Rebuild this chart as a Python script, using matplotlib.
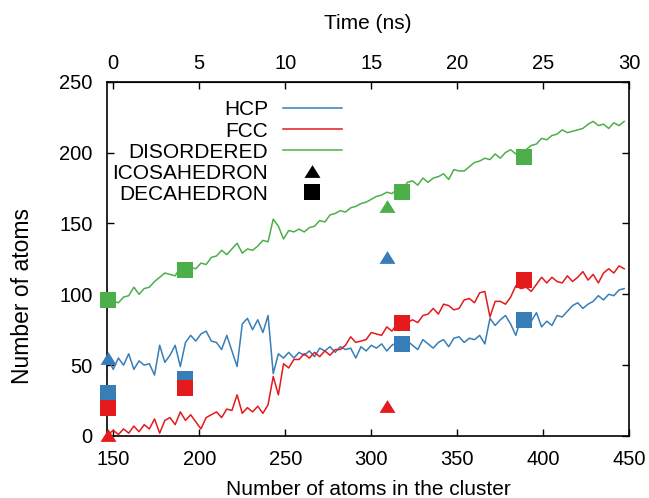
import numpy as np
import matplotlib
matplotlib.use("Agg")
import matplotlib.pyplot as plt
from matplotlib.lines import Line2D

plt.rcParams['font.family'] = ['Liberation Sans', 'DejaVu Sans']
plt.rcParams['font.size'] = 15

# number of atoms in the cluster (sampling of the trajectory)
atoms = np.arange(147, 448, 3)

hcp = [54, 47, 55, 50, 58, 47, 53, 50, 51, 43,
       64, 52, 57, 64, 49, 66, 71, 67, 72, 74,
       67, 66, 61, 71, 60, 49, 79, 83, 75, 82,
       73, 85, 44, 58, 55, 59, 55, 59, 57, 60,
       56, 62, 60, 63, 59, 63, 61, 62, 55, 63,
       60, 64, 62, 65, 60, 64, 66, 63, 67, 64,
       61, 68, 65, 62, 66, 68, 63, 69, 70, 66,
       69, 68, 71, 65, 83, 78, 82, 85, 79, 71,
       83, 82, 81, 87, 77, 81, 78, 85, 84, 88,
       92, 94, 90, 93, 95, 99, 96, 100, 99, 103,
       104]

fcc = [1, 4, 1, 5, 2, 7, 3, 8, 5, 12,
       2, 11, 13, 8, 17, 11, 15, 10, 5, 13,
       15, 17, 13, 19, 18, 29, 16, 20, 17, 21,
       16, 22, 42, 29, 51, 48, 54, 54, 58, 55,
       59, 56, 60, 57, 61, 61, 64, 70, 66, 67,
       68, 73, 72, 71, 77, 74, 79, 76, 80, 82,
       80, 85, 86, 90, 86, 93, 92, 89, 90, 96,
       97, 94, 101, 102, 84, 95, 95, 93, 98, 106,
       104, 105, 102, 107, 112, 108, 112, 109, 108, 113,
       109, 112, 116, 110, 114, 108, 115, 118, 115, 120,
       118]

disordered = [92, 95, 94, 98, 99, 105, 100, 104, 105, 109,
              112, 115, 114, 113, 119, 116, 119, 118, 122, 121,
              126, 127, 131, 128, 132, 136, 129, 132, 131, 134,
              138, 137, 153, 148, 139, 145, 144, 146, 144, 147,
              148, 152, 151, 156, 157, 159, 158, 161, 162, 164,
              165, 167, 169, 170, 172, 171, 174, 173, 179, 180,
              177, 182, 179, 182, 183, 185, 181, 188, 187, 187,
              190, 193, 194, 196, 195, 199, 196, 200, 202, 199,
              200, 202, 205, 206, 210, 209, 212, 213, 216, 214,
              215, 216, 217, 220, 222, 219, 220, 217, 221, 219,
              222]

# icosahedron (triangles) and decahedron (squares) reference structures
ico_atoms = [147, 309]
ico_hcp = [55, 126]
ico_fcc = [1, 21]
ico_dis_atoms = [309]
ico_dis = [162]

deca_atoms = [147, 192, 318, 389]
deca_hcp = [30, 40, 65, 82]
deca_fcc = [20, 34, 80, 110]
deca_dis = [96, 117, 172, 197]

blue = '#377eb8'
red = '#e41a1c'
green = '#4daf4a'

tri = [(-1, -0.8), (1, -0.8), (0, 0.8)]

fig = plt.figure(figsize=(6.49, 4.98), dpi=100)
ax = fig.add_axes([0.1644, 0.1245, 0.8053, 0.7115])

ax.plot(atoms, hcp, color=blue, lw=1.1)
ax.plot(atoms, fcc, color=red, lw=1.1)
ax.plot(atoms, disordered, color=green, lw=1.1)

mk = dict(ls='none', mew=0, clip_on=False, zorder=3)
ax.plot(ico_atoms, ico_hcp, marker=tri, ms=11.5, color=blue, **mk)
ax.plot(ico_atoms, ico_fcc, marker=tri, ms=11.5, color=red, **mk)
ax.plot(ico_dis_atoms, ico_dis, marker=tri, ms=11.5, color=green, **mk)
ax.plot(deca_atoms, deca_hcp, marker='s', ms=12.2, color=blue, **mk)
ax.plot(deca_atoms, deca_fcc, marker='s', ms=12.2, color=red, **mk)
ax.plot(deca_atoms, deca_dis, marker='s', ms=12.2, color=green, **mk)

ax.set_xlim(146.2, 450)
ax.set_ylim(0, 250)
ax.set_xticks([150, 200, 250, 300, 350, 400, 450])
ax.set_yticks([0, 50, 100, 150, 200, 250])
ax.tick_params(direction='in', length=5, width=1, right=True, top=False, labelsize=14.5)
ax.tick_params(axis='x', pad=10)
ax.tick_params(axis='y', pad=10)
ax.set_xlabel('Number of atoms in the cluster', labelpad=8)
ax.set_ylabel('Number of atoms', fontsize=16.5)
ax.yaxis.set_label_coords(-0.139, 0.395)
for s in ax.spines.values():
    s.set_linewidth(1.2)

top = ax.secondary_xaxis('top', functions=(lambda a: (a - 150) / 10, lambda t: t * 10 + 150))
top.set_xticks([0, 5, 10, 15, 20, 25, 30])
top.tick_params(direction='in', length=5, width=1, pad=6.5, labelsize=14.5)
top.set_xlabel('Time (ns)', labelpad=18)

handles = [Line2D([], [], color=blue, lw=1.1),
           Line2D([], [], color=red, lw=1.1),
           Line2D([], [], color=green, lw=1.1),
           Line2D([], [], ls='none', marker=tri, ms=11.5, mew=0, color='black'),
           Line2D([], [], ls='none', marker='s', ms=12.2, mew=0, color='black')]
labels = ['HCP', 'FCC', 'DISORDERED', 'ICOSAHEDRON', 'DECAHEDRON']
ax.legend(handles, labels, loc='upper right', bbox_to_anchor=(0.45, 0.947),
          markerfirst=False, frameon=False, handlelength=2.83, handletextpad=0.72,
          labelspacing=0.1, borderpad=0, borderaxespad=0, fontsize=15)

fig.savefig('out.png', dpi=100)
